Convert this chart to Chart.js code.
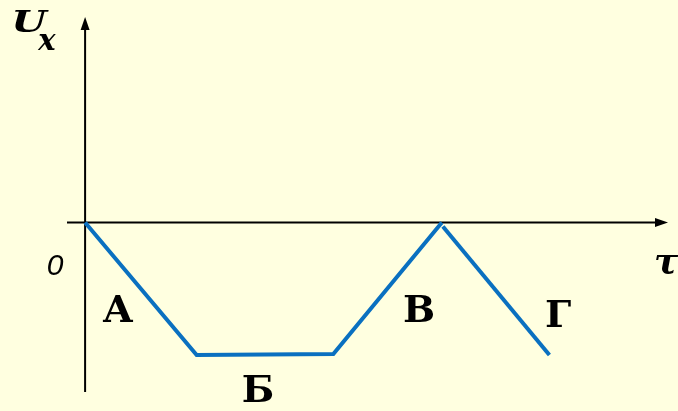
<!DOCTYPE html>
<html lang="ru">
<head>
<meta charset="UTF-8">
<title>U_x(τ)</title>
<script src="https://cdn.jsdelivr.net/npm/chart.js@4"></script>
<style>
  html, body { margin: 0; padding: 0; background: #FFFFE0; }
  #wrap { width: 678px; height: 411px; position: relative; }
</style>
</head>
<body>
<div id="wrap"><canvas id="chart"></canvas></div>
<script>
// ломаная U_x(τ): первый участок до точки В, затем участок Г
const tauMain = [0, 11.1, 24.7, 35.5];
const uMain = [0, -13.3, -13.2, 0];
const tauTail = [35.6, 46.2];
const uTail = [-0.4, -13.3];
const segmentNames = ['А', 'Б', 'В', 'Г'];
const axisNames = { y: 'U', ySub: 'x', x: 'τ', origin: '0' };

const toPoints = (xs, ys) => xs.map((x, i) => ({ x: x, y: ys[i] }));

const SERIF = '"DejaVu Serif", serif';
const SANS = '"Liberation Sans", Arial, sans-serif';

// фон, оси со стрелками и подписи
const decor = {
  id: 'decor',
  beforeDraw(chart) {
    const ctx = chart.ctx;
    ctx.save();
    ctx.fillStyle = '#FFFFE0';
    ctx.fillRect(0, 0, chart.width, chart.height);
    ctx.restore();
  },
  beforeDatasetsDraw(chart) {
    const { ctx, chartArea: a, scales } = chart;
    const x0 = scales.x.getPixelForValue(0);
    const y0 = scales.y.getPixelForValue(0);
    ctx.save();
    ctx.strokeStyle = '#000';
    ctx.fillStyle = '#000';
    ctx.lineWidth = 2;
    // горизонтальная ось
    ctx.beginPath();
    ctx.moveTo(a.left + 2, y0);
    ctx.lineTo(a.right - 10, y0);
    ctx.stroke();
    ctx.beginPath();
    ctx.moveTo(a.right, y0);
    ctx.lineTo(a.right - 13, y0 - 4.5);
    ctx.lineTo(a.right - 13, y0 + 4.5);
    ctx.closePath();
    ctx.fill();
    // вертикальная ось
    ctx.beginPath();
    ctx.moveTo(x0, a.bottom);
    ctx.lineTo(x0, a.top + 14);
    ctx.stroke();
    ctx.beginPath();
    ctx.moveTo(x0, a.top + 4);
    ctx.lineTo(x0 - 4.5, a.top + 17);
    ctx.lineTo(x0 + 4.5, a.top + 17);
    ctx.closePath();
    ctx.fill();
    ctx.restore();
  },
  afterDraw(chart) {
    const ctx = chart.ctx;
    ctx.save();
    ctx.fillStyle = '#000';
    ctx.textAlign = 'center';
    ctx.textBaseline = 'middle';
    // U_x
    ctx.save();
    ctx.translate(29, 24);
    ctx.scale(1.4, 1);
    ctx.font = 'bold italic 29px ' + SERIF;
    ctx.fillText(axisNames.y, 0, 0);
    ctx.restore();
    ctx.font = 'bold italic 29px ' + SERIF;
    ctx.fillText(axisNames.ySub, 47, 42);
    // 0 и τ
    ctx.font = 'italic 30px ' + SANS;
    ctx.fillText(axisNames.origin, 55, 267);
    ctx.font = 'bold italic 36px ' + SERIF;
    ctx.fillText(axisNames.x, 666, 264);
    // буквы участков
    ctx.font = 'bold 38px ' + SERIF;
    const spots = [[118, 312], [258, 392], [419, 312], [558, 317]];
    segmentNames.forEach((s, i) => ctx.fillText(s, spots[i][0], spots[i][1]));
    ctx.restore();
  }
};

new Chart(document.getElementById('chart'), {
  type: 'line',
  data: {
    datasets: [
      { data: toPoints(tauMain, uMain), borderColor: '#0A70C0', borderWidth: 4, pointRadius: 0, tension: 0, borderJoinStyle: 'miter' },
      { data: toPoints(tauTail, uTail), borderColor: '#0A70C0', borderWidth: 4, pointRadius: 0, tension: 0 }
    ]
  },
  options: {
    responsive: true,
    maintainAspectRatio: false,
    animation: false,
    layout: { padding: { left: 65, right: 10, top: 13, bottom: 19 } },
    plugins: { legend: { display: false }, tooltip: { enabled: false } },
    scales: {
      x: { type: 'linear', min: -2, max: 58, display: false },
      y: { type: 'linear', min: -17, max: 21, display: false }
    }
  },
  plugins: [decor]
});
</script>
</body>
</html>
